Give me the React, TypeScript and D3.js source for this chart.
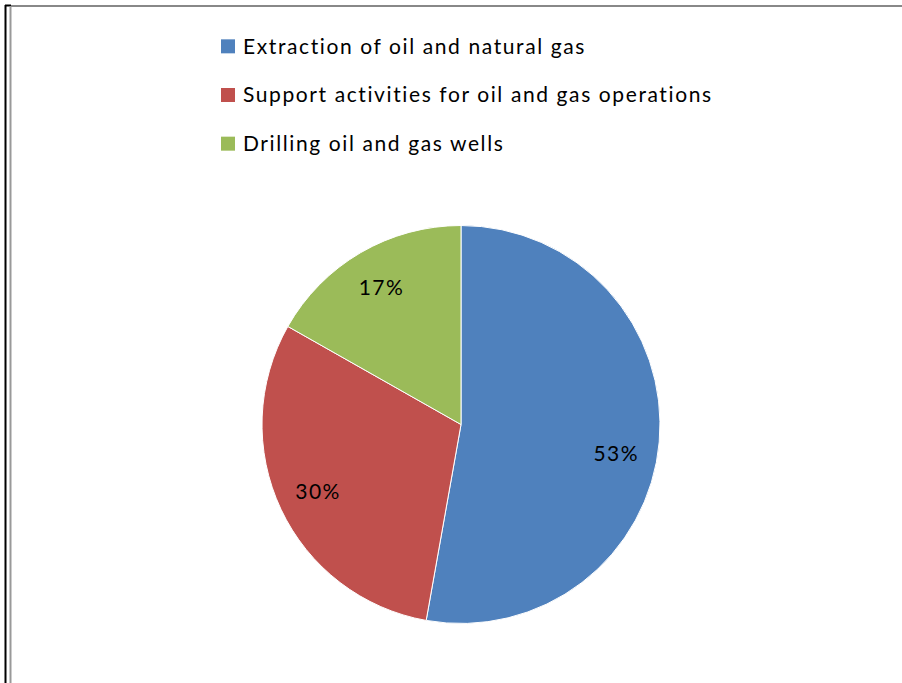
import React from "react";
import * as d3 from "d3";

const categories = [
  "Extraction of oil and natural gas",
  "Support activities for oil and gas operations",
  "Drilling oil and gas wells",
];
const values = [52.8, 30.4, 16.8];
const labels = ["53%", "30%", "17%"];
const colors = ["#4F81BD", "#C0504D", "#9BBB59"];

const W = 902;
const H = 683;
const cx = 461;
const cy = 424.5;
const R = 199;
// small angular nudge (radians) applied to label placement, like Excel's best-fit
const labelNudge = [0.1, 0, 0];

export default function App() {
  const pie = d3.pie<number>().sort(null).value((d) => d);
  const arcs = pie(values);
  const arc = d3.arc<d3.PieArcDatum<number>>().innerRadius(0).outerRadius(R);
  const legendY = d3.scaleBand<number>().domain([0, 1, 2]).range([22, 168]);
  const labelR = 158;

  return (
    <svg
      width={W}
      height={H}
      style={{ position: "absolute", left: 0, top: 0, background: "#fff" }}
      fontFamily="Lato, 'Open Sans', sans-serif"
    >
      <rect x={0} y={0} width={W} height={H} fill="#fff" />
      {/* frame lines */}
      <line x1={5.5} y1={5} x2={5.5} y2={H} stroke="#000" strokeWidth={2} />
      <line x1={5} y1={5.5} x2={11} y2={5.5} stroke="#000" strokeWidth={2} />
      <line x1={10.5} y1={6} x2={10.5} y2={H} stroke="#999" strokeWidth={2} />
      <line x1={11} y1={6} x2={W} y2={6} stroke="#888" strokeWidth={2} />

      {/* legend */}
      {categories.map((c, i) => {
        const yc = (legendY(i) as number) + legendY.bandwidth() / 2;
        return (
          <g key={c}>
            <rect x={221} y={yc - 7} width={14} height={14} fill={colors[i]} />
            <text
              x={243}
              y={yc}
              dy="0.35em"
              fontSize={21}
              letterSpacing={1.6}
              fill="#000"
            >
              {c}
            </text>
          </g>
        );
      })}

      {/* pie */}
      <g transform={`translate(${cx},${cy})`}>
        {arcs.map((a, i) => (
          <path
            key={i}
            d={arc(a) as string}
            fill={colors[i]}
            stroke="#fff"
            strokeWidth={1}
          />
        ))}
        {arcs.map((a, i) => {
          const mid = (a.startAngle + a.endAngle) / 2 + labelNudge[i];
          const lx = labelR * Math.sin(mid);
          const ly = -labelR * Math.cos(mid);
          return (
            <text
              key={"l" + i}
              x={lx}
              y={ly}
              dy="0.35em"
              textAnchor="middle"
              fontSize={21}
              letterSpacing={1.4}
              fill="#000"
            >
              {labels[i]}
            </text>
          );
        })}
      </g>
    </svg>
  );
}
